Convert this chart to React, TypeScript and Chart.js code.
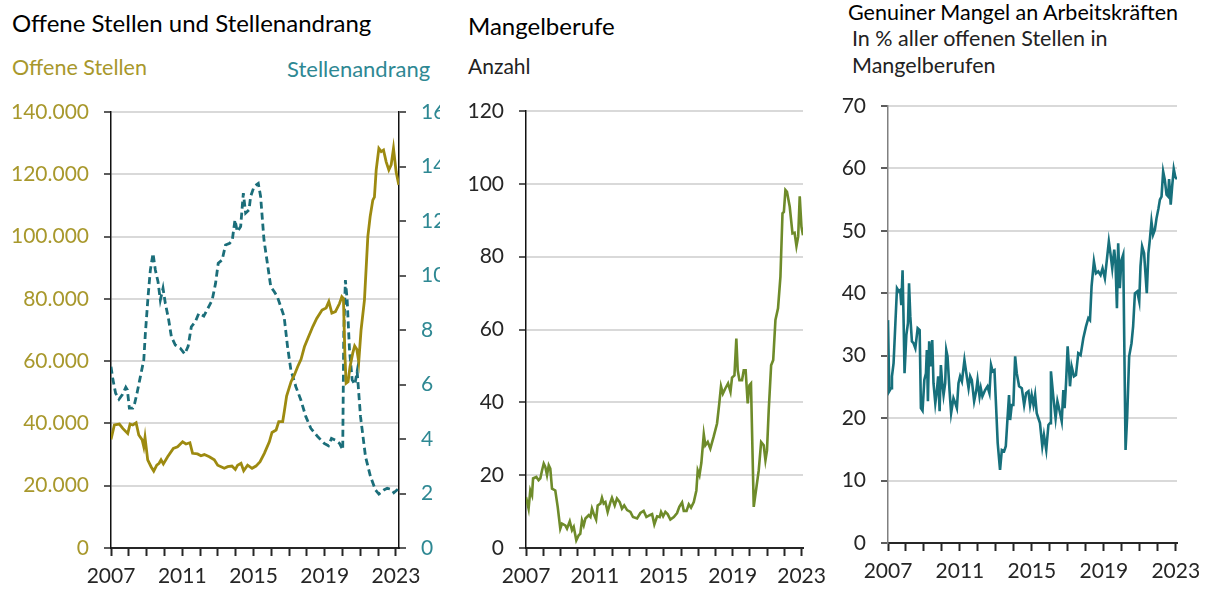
import React, { useEffect, useRef } from 'react';
import { Chart, registerables } from 'chart.js';
Chart.register(...registerables);

const FONT = 'Lato, "Open Sans", sans-serif';

// ---- Chart 1: Offene Stellen (left axis) ----
const offeneYears = [2007.00, 2007.19, 2007.47, 2007.66, 2007.94, 2008.07, 2008.22, 2008.41, 2008.56, 2008.75, 2008.84, 2008.91, 2009.06, 2009.25, 2009.40, 2009.57, 2009.70, 2009.81, 2009.94, 2010.18, 2010.50, 2010.74, 2011.02, 2011.21, 2011.43, 2011.58, 2011.86, 2012.05, 2012.24, 2012.52, 2012.80, 2012.99, 2013.36, 2013.55, 2013.79, 2013.98, 2014.11, 2014.30, 2014.45, 2014.67, 2014.92, 2015.14, 2015.37, 2015.61, 2015.89, 2016.04, 2016.27, 2016.42, 2016.64, 2016.73, 2016.86, 2017.11, 2017.29, 2017.48, 2017.67, 2017.86, 2018.05, 2018.33, 2018.55, 2018.85, 2019.08, 2019.23, 2019.40, 2019.60, 2019.83, 2019.96, 2020.05, 2020.13, 2020.20, 2020.31, 2020.42, 2020.57, 2020.68, 2020.80, 2020.91, 2021.04, 2021.23, 2021.42, 2021.55, 2021.70, 2021.79, 2021.89, 2022.04, 2022.17, 2022.30, 2022.45, 2022.60, 2022.73, 2022.86, 2023.01, 2023.16];
const offeneValues = [34900, 39500, 39800, 38400, 36800, 39800, 39500, 40200, 36300, 34700, 32500, 35500, 28300, 26100, 24700, 26600, 27200, 28300, 27000, 29300, 32000, 32500, 34100, 33400, 33800, 30400, 30200, 29600, 30000, 29300, 28300, 26600, 25600, 26100, 26300, 25200, 26600, 27200, 24800, 26600, 25600, 26300, 27700, 30400, 34100, 37100, 37900, 40600, 40600, 43800, 48800, 53400, 55500, 58200, 60600, 64600, 67300, 71100, 73700, 76400, 77100, 79100, 75400, 75900, 78500, 80700, 80100, 62500, 52900, 53400, 58200, 62500, 64900, 63800, 59800, 70000, 79600, 100000, 106400, 111700, 112700, 121400, 128300, 127300, 127800, 124000, 121400, 123000, 128300, 120700, 116600];

// ---- Chart 1: Stellenandrang (right axis) ----
const andrangYears = [2007.00, 2007.11, 2007.26, 2007.45, 2007.64, 2007.83, 2007.92, 2008.03, 2008.22, 2008.33, 2008.46, 2008.65, 2008.84, 2008.93, 2009.08, 2009.21, 2009.36, 2009.49, 2009.64, 2009.77, 2009.92, 2010.05, 2010.24, 2010.39, 2010.61, 2010.89, 2011.14, 2011.33, 2011.51, 2011.74, 2011.93, 2012.21, 2012.49, 2012.68, 2012.87, 2013.02, 2013.24, 2013.43, 2013.66, 2013.81, 2013.96, 2014.09, 2014.28, 2014.43, 2014.56, 2014.75, 2014.84, 2015.03, 2015.27, 2015.40, 2015.59, 2015.78, 2015.97, 2016.16, 2016.34, 2016.53, 2016.72, 2016.91, 2017.10, 2017.38, 2017.66, 2017.94, 2018.22, 2018.60, 2018.97, 2019.21, 2019.38, 2019.60, 2019.83, 2020.01, 2020.07, 2020.16, 2020.26, 2020.39, 2020.54, 2020.69, 2020.82, 2021.01, 2021.29, 2021.57, 2021.85, 2022.04, 2022.32, 2022.51, 2022.75, 2022.88, 2023.16];
const andrangValues = [6.65, 6.17, 5.68, 5.46, 5.63, 5.90, 5.80, 5.13, 5.13, 5.31, 5.68, 6.29, 6.90, 7.88, 9.22, 10.20, 10.81, 10.20, 9.77, 9.10, 9.53, 8.98, 8.37, 7.75, 7.45, 7.33, 7.12, 7.40, 8.12, 8.31, 8.61, 8.51, 8.86, 9.10, 9.71, 10.45, 10.57, 11.12, 11.18, 11.30, 12.04, 11.61, 11.80, 13.02, 12.29, 12.41, 12.90, 13.26, 13.38, 12.90, 11.30, 10.45, 9.59, 9.41, 9.22, 8.86, 8.49, 7.40, 6.53, 5.92, 5.43, 4.82, 4.39, 4.09, 3.84, 3.75, 4.02, 3.96, 3.84, 3.60, 7.88, 9.83, 9.10, 7.28, 6.17, 6.00, 6.48, 4.82, 3.35, 2.62, 2.13, 1.98, 2.13, 2.19, 2.15, 2.03, 2.19];

// ---- Chart 2: Mangelberufe (Anzahl) ----
const mangelYears = [2007.00, 2007.15, 2007.25, 2007.35, 2007.41, 2007.60, 2007.73, 2007.83, 2007.93, 2008.03, 2008.12, 2008.22, 2008.32, 2008.41, 2008.51, 2008.70, 2008.84, 2008.99, 2009.09, 2009.28, 2009.38, 2009.54, 2009.67, 2009.77, 2009.92, 2010.06, 2010.15, 2010.25, 2010.35, 2010.45, 2010.64, 2010.74, 2010.83, 2010.93, 2011.07, 2011.16, 2011.32, 2011.41, 2011.51, 2011.61, 2011.74, 2011.90, 2011.99, 2012.15, 2012.28, 2012.44, 2012.57, 2012.70, 2012.87, 2013.06, 2013.21, 2013.45, 2013.64, 2013.83, 2013.99, 2014.18, 2014.32, 2014.45, 2014.61, 2014.76, 2014.84, 2014.96, 2015.09, 2015.22, 2015.38, 2015.58, 2015.77, 2015.90, 2016.06, 2016.16, 2016.32, 2016.45, 2016.58, 2016.74, 2016.89, 2016.97, 2017.07, 2017.18, 2017.32, 2017.41, 2017.55, 2017.70, 2017.89, 2018.09, 2018.22, 2018.32, 2018.43, 2018.57, 2018.73, 2018.87, 2018.96, 2019.10, 2019.21, 2019.29, 2019.39, 2019.54, 2019.64, 2019.75, 2019.87, 2019.97, 2020.06, 2020.22, 2020.38, 2020.51, 2020.65, 2020.80, 2020.90, 2020.99, 2021.09, 2021.23, 2021.35, 2021.48, 2021.63, 2021.77, 2021.89, 2021.97, 2022.06, 2022.15, 2022.31, 2022.47, 2022.59, 2022.70, 2022.80, 2022.89, 2022.99, 2023.08];
const mangelValues = [14.0, 10.8, 15.8, 14.5, 19.1, 19.5, 18.6, 19.1, 21.3, 23.2, 22.3, 20.0, 22.7, 21.8, 16.3, 15.8, 11.3, 5.3, 6.7, 6.2, 5.3, 7.3, 4.9, 5.8, 2.1, 3.5, 3.9, 7.6, 6.2, 8.1, 9.0, 8.5, 10.8, 9.4, 7.8, 11.7, 12.2, 13.8, 12.2, 12.6, 9.9, 12.6, 13.8, 11.7, 13.6, 12.6, 10.8, 11.7, 10.4, 9.9, 8.5, 8.1, 9.6, 10.2, 8.5, 9.0, 9.3, 6.5, 8.7, 8.5, 9.9, 8.7, 9.9, 9.3, 7.8, 8.5, 9.6, 11.3, 12.5, 10.2, 10.2, 12.0, 11.1, 12.6, 15.8, 21.3, 20.0, 23.4, 31.2, 28.2, 29.1, 27.3, 30.5, 34.2, 39.7, 44.4, 42.4, 43.8, 45.2, 42.9, 46.8, 47.4, 57.5, 48.8, 46.1, 46.1, 48.8, 48.8, 39.7, 44.7, 45.2, 11.3, 16.8, 21.3, 29.1, 28.2, 24.1, 26.8, 37.8, 50.2, 51.6, 62.6, 65.8, 74.5, 91.9, 92.3, 98.3, 97.8, 93.7, 86.4, 86.6, 82.9, 85.5, 96.6, 88.2, 85.9];

// ---- Chart 3: Genuiner Mangel (%) ----
const genuinYears = [2007.00, 2007.07, 2007.17, 2007.22, 2007.31, 2007.41, 2007.50, 2007.61, 2007.68, 2007.74, 2007.81, 2007.87, 2007.92, 2008.02, 2008.11, 2008.17, 2008.24, 2008.33, 2008.42, 2008.52, 2008.65, 2008.76, 2008.83, 2008.92, 2009.02, 2009.11, 2009.16, 2009.22, 2009.29, 2009.37, 2009.46, 2009.53, 2009.63, 2009.72, 2009.79, 2009.87, 2009.94, 2010.00, 2010.09, 2010.18, 2010.24, 2010.31, 2010.42, 2010.51, 2010.64, 2010.74, 2010.83, 2010.92, 2011.01, 2011.11, 2011.25, 2011.38, 2011.48, 2011.57, 2011.66, 2011.79, 2011.90, 2011.98, 2012.09, 2012.16, 2012.25, 2012.40, 2012.53, 2012.64, 2012.73, 2012.82, 2012.92, 2013.01, 2013.10, 2013.23, 2013.33, 2013.46, 2013.55, 2013.64, 2013.73, 2013.79, 2013.88, 2013.97, 2014.07, 2014.16, 2014.29, 2014.44, 2014.57, 2014.68, 2014.81, 2014.90, 2014.99, 2015.09, 2015.18, 2015.27, 2015.45, 2015.58, 2015.67, 2015.80, 2015.92, 2016.01, 2016.06, 2016.19, 2016.32, 2016.42, 2016.53, 2016.66, 2016.75, 2016.82, 2016.90, 2016.99, 2017.06, 2017.12, 2017.21, 2017.34, 2017.45, 2017.58, 2017.71, 2017.86, 2018.01, 2018.14, 2018.23, 2018.32, 2018.45, 2018.56, 2018.69, 2018.82, 2018.93, 2019.06, 2019.19, 2019.28, 2019.37, 2019.47, 2019.58, 2019.65, 2019.73, 2019.80, 2019.89, 2019.98, 2020.08, 2020.21, 2020.30, 2020.41, 2020.54, 2020.63, 2020.73, 2020.86, 2020.97, 2021.04, 2021.13, 2021.24, 2021.39, 2021.48, 2021.56, 2021.65, 2021.74, 2021.84, 2021.93, 2022.04, 2022.12, 2022.21, 2022.30, 2022.39, 2022.49, 2022.58, 2022.63, 2022.72, 2022.80, 2022.89, 2022.98, 2023.07];
const genuinValues = [35.7, 24.3, 24.8, 26.7, 28.8, 35.2, 40.8, 40.3, 40.5, 38.1, 43.7, 35.2, 27.2, 33.3, 35.2, 41.6, 36.3, 32.3, 32.0, 31.2, 34.4, 34.1, 21.6, 21.2, 26.1, 27.2, 30.9, 22.7, 32.3, 28.3, 32.5, 25.6, 22.4, 24.5, 26.7, 21.1, 28.5, 26.1, 23.7, 25.6, 30.9, 29.9, 24.5, 20.8, 23.2, 22.4, 21.6, 25.6, 26.7, 25.9, 29.3, 26.7, 24.8, 26.7, 26.1, 22.7, 24.3, 26.1, 23.5, 24.8, 23.5, 24.5, 25.1, 24.0, 28.5, 27.5, 27.7, 21.9, 16.0, 11.7, 14.9, 14.7, 15.5, 19.7, 23.7, 19.7, 22.1, 22.1, 29.9, 27.2, 25.1, 24.8, 22.1, 24.0, 24.3, 22.1, 23.7, 22.1, 23.7, 20.8, 19.2, 15.5, 17.3, 14.9, 18.9, 19.2, 27.5, 23.5, 20.0, 22.7, 21.3, 19.5, 24.5, 21.6, 25.6, 31.5, 28.3, 25.1, 28.3, 26.7, 26.9, 30.4, 30.1, 32.8, 34.7, 36.0, 35.7, 41.1, 45.1, 43.2, 43.5, 42.9, 44.0, 42.4, 45.9, 48.3, 46.4, 44.0, 47.0, 44.8, 37.6, 48.0, 40.8, 45.3, 46.2, 14.9, 20.3, 29.9, 32.0, 34.7, 40.0, 40.3, 38.7, 44.3, 47.5, 46.4, 40.0, 46.4, 48.6, 51.5, 49.4, 50.2, 52.0, 53.6, 55.0, 55.5, 59.5, 58.2, 55.8, 55.5, 58.3, 54.2, 57.1, 59.9, 58.6, 58.3];

const yearLabels = [2007, 2011, 2015, 2019, 2023];

const GOLD = '#9D8A10';
const GOLD_TXT = '#A8982C';
const TEAL_DASH = '#1B6E7A';
const TEAL_TXT = '#2E8893';
const OLIVE = '#6E8B2A';
const TEAL3 = '#17707C';
const DARK = '#262626';
const GRID = '#D9D9D9';
const TICK_SIZE = 21;

function pts(xs: number[], ys: number[]) {
  return xs.map((x, i) => ({ x, y: ys[i] }));
}
function thousands(v: number) {
  return String(Math.round(v)).replace(/\B(?=(\d{3})+(?!\d))/g, '.');
}

function xAxis(max: number, height: number) {
  return {
    type: 'linear',
    position: 'bottom',
    min: 2007,
    max,
    afterFit: (s: any) => {
      s.height = height;
      s.paddingLeft = 0; s.paddingRight = 0; s.paddingTop = 0; s.paddingBottom = 0;
    },
    grid: { display: true, drawOnChartArea: false, drawTicks: true, tickLength: 8, tickColor: DARK, tickWidth: 2 },
    border: { display: true, color: DARK, width: 2 },
    ticks: {
      stepSize: 1, autoSkip: false, maxRotation: 0, minRotation: 0, includeBounds: false, padding: 8,
      color: DARK, font: { family: FONT, size: TICK_SIZE },
      callback: (v: number) => {
        const r = Math.round(v);
        return yearLabels.includes(r) ? String(r) : '';
      },
    },
  };
}

function yAxis(opts: any) {
  return {
    type: 'linear',
    position: opts.position || 'left',
    min: opts.min,
    max: opts.max,
    afterFit: (s: any) => {
      s.width = opts.width;
      s.paddingLeft = 0; s.paddingRight = 0; s.paddingTop = 0; s.paddingBottom = 0;
    },
    grid: {
      display: true,
      drawOnChartArea: opts.drawGrid !== false,
      color: GRID,
      lineWidth: 2,
      drawTicks: true,
      tickLength: 7,
      tickColor: DARK,
      tickWidth: 1.5,
    },
    border: { display: true, color: opts.borderColor || '#111', width: 1.5 },
    ticks: {
      stepSize: opts.step,
      padding: opts.padding ?? 15,
      color: opts.color || DARK,
      font: { family: FONT, size: TICK_SIZE },
      callback: opts.callback || ((v: number) => String(v)),
    },
  };
}

function useChart(ref: React.RefObject<HTMLCanvasElement>, build: () => any) {
  useEffect(() => {
    let chart: Chart | null = null;
    let cancelled = false;
    const make = () => {
      if (cancelled || !ref.current) return;
      chart = new Chart(ref.current, build());
    };
    const f = (document as any).fonts;
    if (f && f.load) {
      Promise.all([f.load('20px Lato')]).then(make, make);
    } else make();
    return () => { cancelled = true; if (chart) chart.destroy(); };
  }, []);
}

function baseOptions(padding: any, scales: any) {
  return {
    responsive: false,
    animation: false,
    maintainAspectRatio: false,
    layout: { padding },
    plugins: { legend: { display: false }, tooltip: { enabled: false }, title: { display: false } },
    elements: { point: { radius: 0 }, line: { tension: 0 } },
    scales,
  };
}

function Chart1() {
  const ref = useRef<HTMLCanvasElement>(null);
  useChart(ref, () => ({
    type: 'line',
    data: {
      datasets: [
        { label: 'Offene Stellen', data: pts(offeneYears, offeneValues), borderColor: GOLD, borderWidth: 2.8, yAxisID: 'y', pointRadius: 0, order: 1 },
        { label: 'Stellenandrang', data: pts(andrangYears, andrangValues), borderColor: TEAL_DASH, borderWidth: 2.8, borderDash: [7, 4], yAxisID: 'y2', pointRadius: 0, order: 2 },
      ],
    },
    options: baseOptions({ top: 20, right: 0, left: 0, bottom: 0 }, {
      x: xAxis(2023.17, 42),
      y: yAxis({ min: 0, max: 140000, step: 20000, width: 111, color: GOLD_TXT, callback: thousands }),
      y2: yAxis({ position: 'right', min: 0, max: 16, step: 2, width: 41, color: TEAL_TXT, drawGrid: false }),
    }),
  }));
  return <canvas ref={ref} width={440} height={498} style={{ position: 'absolute', left: 0, top: 92, width: 440, height: 498 }} />;
}

function Chart2() {
  const ref = useRef<HTMLCanvasElement>(null);
  useChart(ref, () => ({
    type: 'line',
    data: {
      datasets: [
        { label: 'Mangelberufe', data: pts(mangelYears, mangelValues), borderColor: OLIVE, borderWidth: 2.6, pointRadius: 0 },
      ],
    },
    options: baseOptions({ top: 20, right: 27, left: 0, bottom: 0 }, {
      x: xAxis(2023.08, 42),
      y: yAxis({ min: 0, max: 120, step: 20, width: 66 }),
    }),
  }));
  return <canvas ref={ref} width={370} height={499} style={{ position: 'absolute', left: 460, top: 91, width: 370, height: 499 }} />;
}

function Chart3() {
  const ref = useRef<HTMLCanvasElement>(null);
  useChart(ref, () => ({
    type: 'line',
    data: {
      datasets: [
        { label: 'Genuiner Mangel', data: pts(genuinYears, genuinValues), borderColor: TEAL3, borderWidth: 2.6, pointRadius: 0 },
      ],
    },
    options: baseOptions({ top: 20, right: 28, left: 0, bottom: 0 }, {
      x: xAxis(2023.07, 47),
      y: yAxis({ min: 0, max: 70, step: 10, width: 58, borderColor: '#808080' }),
    }),
  }));
  return <canvas ref={ref} width={375} height={504} style={{ position: 'absolute', left: 830, top: 86, width: 375, height: 504 }} />;
}

function Txt(props: { x: number; y: number; size: number; color?: string; weight?: number; children: any }) {
  return (
    <div style={{
      position: 'absolute', left: props.x, top: props.y, fontSize: props.size, lineHeight: 1,
      fontFamily: FONT, color: props.color || '#000', fontWeight: props.weight || 400, whiteSpace: 'nowrap',
    }}>{props.children}</div>
  );
}

export default function App() {
  return (
    <div style={{ position: 'absolute', left: 0, top: 0, width: 1205, height: 590, background: '#fff', overflow: 'hidden' }}>
      <Txt x={12} y={11} size={24}>Offene Stellen und Stellenandrang</Txt>
      <Txt x={12} y={57} size={21.5} color={GOLD_TXT}>Offene Stellen</Txt>
      <Txt x={287} y={58} size={22} color={TEAL_TXT}>Stellenandrang</Txt>
      <Txt x={468} y={14} size={24}>Mangelberufe</Txt>
      <Txt x={468} y={55} size={21} color="#222">Anzahl</Txt>
      <Txt x={848} y={2} size={21.5}>Genuiner Mangel an Arbeitskräften</Txt>
      <Txt x={852} y={28} size={21.5} color="#222">In % aller offenen Stellen in</Txt>
      <Txt x={852} y={55} size={21.5} color="#222">Mangelberufen</Txt>
      <Chart1 />
      <Chart2 />
      <Chart3 />
    </div>
  );
}
